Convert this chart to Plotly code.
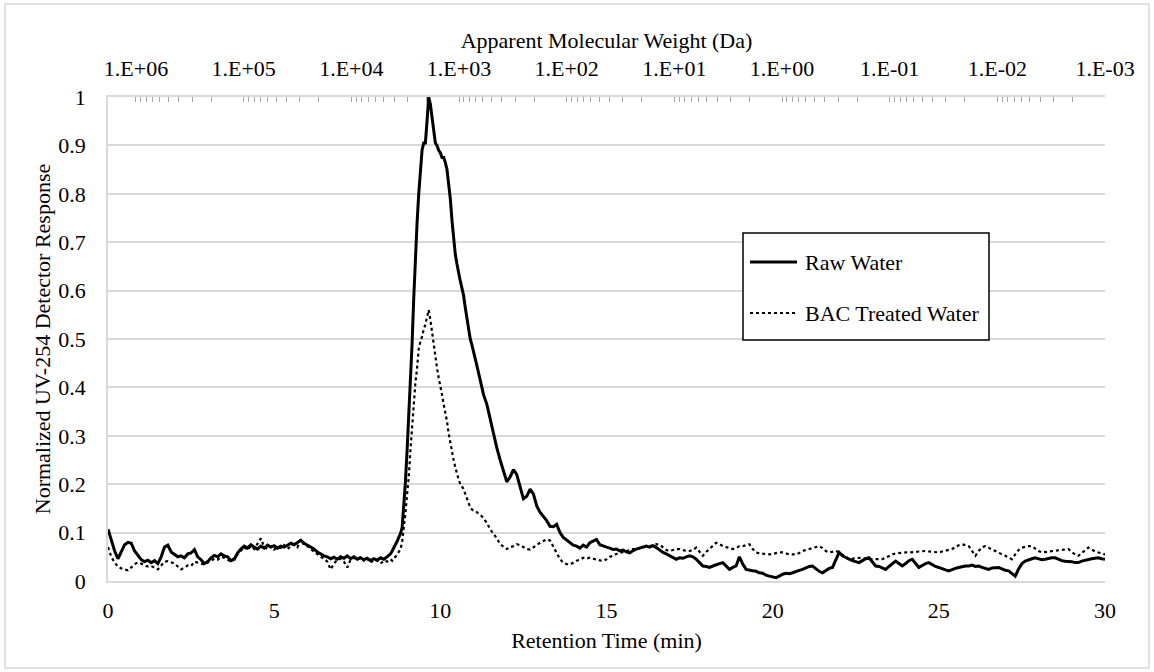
import math
import plotly.graph_objects as go

# ---------------- data ----------------
# retention-time sampling: 0.0-8.4 by 0.1, 8.5-10.95 by 0.05, 11.0-30.0 by 0.1
time_a = [round(i * 0.1, 2) for i in range(85)]
time_b = [round(8.5 + i * 0.05, 2) for i in range(50)]
time_c = [round(11.0 + i * 0.1, 2) for i in range(191)]

raw_a = [
    0.107, 0.085, 0.062, 0.046, 0.060, 0.075, 0.080, 0.078, 0.062, 0.052,
    0.044, 0.040, 0.043, 0.038, 0.042, 0.036, 0.050, 0.070, 0.074, 0.060,
    0.055, 0.050, 0.052, 0.048, 0.056, 0.058, 0.065, 0.050, 0.044, 0.036,
    0.040, 0.048, 0.053, 0.050, 0.056, 0.052, 0.050, 0.042, 0.045, 0.058,
    0.066, 0.072, 0.068, 0.075, 0.070, 0.066, 0.072, 0.068, 0.074, 0.070,
    0.073, 0.068, 0.072, 0.070, 0.074, 0.078, 0.075, 0.080, 0.084, 0.078,
    0.074, 0.070, 0.066, 0.060, 0.056, 0.052, 0.050, 0.046, 0.049, 0.045,
    0.050, 0.047, 0.052, 0.046, 0.050, 0.045, 0.048, 0.044, 0.047, 0.042,
    0.046, 0.043, 0.048, 0.045, 0.050,
]
raw_b = [
    0.056, 0.062, 0.068, 0.075, 0.082, 0.090, 0.098, 0.110, 0.150, 0.205,
    0.270, 0.340, 0.415, 0.490, 0.585, 0.670, 0.740, 0.800, 0.850, 0.890,
    0.905, 0.905, 0.950, 1.000, 0.985, 0.955, 0.930, 0.905, 0.900, 0.890,
    0.885, 0.875, 0.875, 0.865, 0.850, 0.820, 0.790, 0.745, 0.700, 0.675,
    0.655, 0.635, 0.620, 0.605, 0.590, 0.565, 0.540, 0.515, 0.500, 0.488,
]
raw_c = [
    0.475, 0.445, 0.415, 0.385, 0.365, 0.335, 0.300, 0.275, 0.250, 0.225,
    0.205, 0.215, 0.230, 0.220, 0.195, 0.170, 0.175, 0.190, 0.180, 0.155,
    0.142, 0.134, 0.125, 0.113, 0.112, 0.117, 0.100, 0.090, 0.085, 0.079,
    0.074, 0.072, 0.068, 0.074, 0.070, 0.079, 0.082, 0.086, 0.075, 0.072,
    0.070, 0.068, 0.065, 0.066, 0.062, 0.064, 0.060, 0.058, 0.063, 0.066,
    0.068, 0.070, 0.072, 0.070, 0.073, 0.069, 0.064, 0.059, 0.056, 0.052,
    0.049, 0.045, 0.048, 0.047, 0.050, 0.052, 0.050, 0.045, 0.038, 0.031,
    0.030, 0.028, 0.031, 0.034, 0.036, 0.038, 0.030, 0.024, 0.028, 0.031,
    0.050, 0.035, 0.024, 0.022, 0.021, 0.020, 0.017, 0.016, 0.012, 0.010,
    0.008, 0.007, 0.010, 0.014, 0.016, 0.015, 0.017, 0.020, 0.022, 0.024,
    0.027, 0.030, 0.031, 0.026, 0.020, 0.017, 0.022, 0.026, 0.028, 0.045,
    0.059, 0.052, 0.048, 0.045, 0.042, 0.040, 0.038, 0.042, 0.046, 0.048,
    0.040, 0.031, 0.030, 0.027, 0.024, 0.030, 0.036, 0.041, 0.036, 0.031,
    0.036, 0.042, 0.045, 0.036, 0.028, 0.032, 0.036, 0.038, 0.034, 0.030,
    0.028, 0.025, 0.023, 0.021, 0.024, 0.026, 0.028, 0.030, 0.031, 0.031,
    0.033, 0.030, 0.031, 0.028, 0.026, 0.024, 0.027, 0.028, 0.028, 0.025,
    0.022, 0.021, 0.016, 0.010, 0.025, 0.036, 0.041, 0.044, 0.046, 0.048,
    0.046, 0.044, 0.045, 0.047, 0.048, 0.048, 0.045, 0.042, 0.041, 0.041,
    0.040, 0.038, 0.038, 0.041, 0.043, 0.045, 0.046, 0.047, 0.048, 0.046,
    0.045,
]

bac_a = [
    0.070, 0.050, 0.038, 0.030, 0.026, 0.024, 0.022, 0.028, 0.035, 0.038,
    0.036, 0.032, 0.030, 0.031, 0.027, 0.024, 0.032, 0.040, 0.041, 0.038,
    0.036, 0.030, 0.024, 0.028, 0.032, 0.031, 0.040, 0.038, 0.036, 0.034,
    0.038, 0.042, 0.046, 0.044, 0.050, 0.048, 0.044, 0.040, 0.048, 0.056,
    0.062, 0.070, 0.064, 0.072, 0.066, 0.078, 0.088, 0.070, 0.066, 0.072,
    0.065, 0.070, 0.068, 0.074, 0.066, 0.072, 0.076, 0.070, 0.086, 0.074,
    0.072, 0.066, 0.060, 0.055, 0.050, 0.046, 0.040, 0.024, 0.036, 0.044,
    0.046, 0.040, 0.028, 0.044, 0.048, 0.044, 0.050, 0.042, 0.046, 0.038,
    0.044, 0.042, 0.036, 0.042, 0.040,
]
bac_b = [
    0.045, 0.042, 0.048, 0.050, 0.055, 0.060, 0.065, 0.080, 0.105, 0.140,
    0.180, 0.215, 0.270, 0.320, 0.370, 0.410, 0.440, 0.480, 0.495, 0.505,
    0.520, 0.530, 0.545, 0.560, 0.540, 0.515, 0.480, 0.455, 0.440, 0.420,
    0.405, 0.385, 0.365, 0.350, 0.330, 0.305, 0.285, 0.265, 0.250, 0.235,
    0.220, 0.210, 0.200, 0.195, 0.190, 0.180, 0.170, 0.160, 0.152, 0.148,
]
bac_c = [
    0.145, 0.142, 0.137, 0.130, 0.120, 0.107, 0.098, 0.088, 0.076, 0.070,
    0.066, 0.070, 0.072, 0.076, 0.074, 0.070, 0.066, 0.065, 0.069, 0.074,
    0.079, 0.082, 0.086, 0.084, 0.070, 0.058, 0.045, 0.038, 0.035, 0.034,
    0.038, 0.042, 0.044, 0.048, 0.046, 0.048, 0.046, 0.044, 0.042, 0.041,
    0.045, 0.050, 0.052, 0.056, 0.058, 0.060, 0.062, 0.064, 0.066, 0.066,
    0.068, 0.070, 0.072, 0.072, 0.074, 0.076, 0.075, 0.070, 0.064, 0.062,
    0.064, 0.066, 0.066, 0.064, 0.062, 0.062, 0.064, 0.069, 0.060, 0.052,
    0.060, 0.066, 0.074, 0.079, 0.076, 0.072, 0.070, 0.068, 0.066, 0.068,
    0.072, 0.072, 0.074, 0.076, 0.066, 0.059, 0.057, 0.056, 0.055, 0.055,
    0.056, 0.058, 0.059, 0.059, 0.057, 0.055, 0.055, 0.055, 0.058, 0.062,
    0.064, 0.066, 0.068, 0.070, 0.072, 0.068, 0.062, 0.059, 0.060, 0.062,
    0.059, 0.055, 0.050, 0.045, 0.046, 0.047, 0.048, 0.047, 0.046, 0.046,
    0.045, 0.045, 0.045, 0.045, 0.048, 0.052, 0.055, 0.057, 0.058, 0.059,
    0.059, 0.059, 0.059, 0.060, 0.061, 0.062, 0.062, 0.061, 0.060, 0.060,
    0.059, 0.061, 0.063, 0.065, 0.066, 0.070, 0.074, 0.076, 0.074, 0.072,
    0.062, 0.052, 0.062, 0.070, 0.072, 0.068, 0.065, 0.062, 0.058, 0.055,
    0.052, 0.048, 0.045, 0.055, 0.064, 0.069, 0.071, 0.072, 0.072, 0.066,
    0.062, 0.059, 0.060, 0.061, 0.062, 0.062, 0.064, 0.065, 0.066, 0.066,
    0.060, 0.055, 0.052, 0.058, 0.064, 0.069, 0.065, 0.061, 0.059, 0.057,
    0.055,
]

time_min = time_a + time_b + time_c
raw_water = raw_a + raw_b + raw_c
bac_water = bac_a + bac_b + bac_c
assert len(time_min) == len(raw_water) == len(bac_water)

series_names = ["Raw Water", "BAC Treated Water"]

x_ticks = [0, 5, 10, 15, 20, 25, 30]
y_ticks = [round(i * 0.1, 1) for i in range(11)]
y_ticktext = ["0", "0.1", "0.2", "0.3", "0.4", "0.5", "0.6", "0.7", "0.8", "0.9", "1"]

mw_exponents = [6, 5, 4, 3, 2, 1, 0, -1, -2, -3]
mw_labels = ["1.E+06", "1.E+05", "1.E+04", "1.E+03", "1.E+02",
             "1.E+01", "1.E+00", "1.E-01", "1.E-02", "1.E-03"]
mw_log_range = [6.26, -3]  # log10(MW) at t=0 and at t=30

# ---------------- figure ----------------
FONT = "Liberation Serif"
GRID = "#d9d9d9"
TXT = dict(family=FONT, size=22, color="black")

# top-axis ticks: every n*10^k inside the range, labels only at powers of ten
top_vals, top_text = [], []
for e, lab in zip(mw_exponents, mw_labels):
    for n in range(1, 10):
        v = n * 10.0 ** e
        lv = math.log10(v)
        if mw_log_range[1] - 1e-9 <= lv <= mw_log_range[0]:
            top_vals.append(v)
            top_text.append(lab if n == 1 else "")

fig = go.Figure()
fig.add_trace(go.Scatter(
    x=time_min, y=raw_water, mode="lines", name=series_names[0],
    line=dict(color="black", width=3), showlegend=False,
))
fig.add_trace(go.Scatter(
    x=time_min, y=bac_water, mode="lines", name=series_names[1],
    line=dict(color="black", width=2.2, dash="dot"), showlegend=False,
))
# invisible helper trace so the top (molecular weight) axis is drawn
fig.add_trace(go.Scatter(
    x=[10.0 ** mw_log_range[0], 10.0 ** mw_log_range[1]], y=[None, None],
    xaxis="x2", mode="lines", showlegend=False, hoverinfo="skip",
))

W, H = 1154, 672
L, R, T, B = 108, 49, 97, 91
pw, ph = W - L - R, H - T - B


def px_x(p):
    return (p - L) / pw


def px_y(p):
    return (H - B - p) / ph


# legend drawn as a framed box with line samples and text
legend_box = dict(x0=743, x1=989, y0=233, y1=340)
legend_rows = [262, 313]
legend_styles = [dict(color="black", width=3), dict(color="black", width=2.2, dash="dot")]

shapes = [dict(
    type="rect", xref="paper", yref="paper",
    x0=px_x(5), x1=px_x(1149), y0=px_y(668), y1=px_y(4),
    line=dict(color=GRID, width=1.5), fillcolor="rgba(0,0,0,0)", layer="below",
), dict(
    type="rect", xref="paper", yref="paper",
    x0=px_x(legend_box["x0"]), x1=px_x(legend_box["x1"]),
    y0=px_y(legend_box["y1"]), y1=px_y(legend_box["y0"]),
    line=dict(color="black", width=1.5), fillcolor="white", layer="above",
)]
annotations = []
for name, row, style in zip(series_names, legend_rows, legend_styles):
    shapes.append(dict(
        type="line", xref="paper", yref="paper",
        x0=px_x(750), x1=px_x(797), y0=px_y(row), y1=px_y(row),
        line=style, layer="above",
    ))
    annotations.append(dict(
        text=name, xref="paper", yref="paper", x=px_x(803), y=px_y(row),
        xanchor="left", yanchor="middle", showarrow=False, font=TXT,
    ))

fig.update_layout(
    width=W, height=H,
    margin=dict(l=L, r=R, t=T, b=B, autoexpand=False),
    paper_bgcolor="white", plot_bgcolor="white",
    font=TXT,
    showlegend=False,
    xaxis=dict(
        range=[0, 30], tickmode="array", tickvals=x_ticks,
        showgrid=False, zeroline=False, showline=True, linecolor=GRID, linewidth=1.5,
        ticks="", ticklabelstandoff=9, tickfont=TXT,
        title=dict(text="Retention Time (min)", standoff=10, font=TXT),
        fixedrange=True,
    ),
    xaxis2=dict(
        type="log", range=mw_log_range, overlaying="x", side="top",
        tickmode="array", tickvals=top_vals, ticktext=top_text,
        ticks="inside", ticklen=5, tickwidth=1, tickcolor="#a6a6a6",
        showgrid=False, zeroline=False, showline=True, linecolor=GRID, linewidth=1.5,
        ticklabelstandoff=10, tickfont=TXT,
        title=dict(text="Apparent Molecular Weight (Da)", standoff=2, font=TXT),
    ),
    yaxis=dict(
        range=[0, 1], tickmode="array", tickvals=y_ticks, ticktext=y_ticktext,
        showgrid=True, gridcolor=GRID, gridwidth=1.5,
        zeroline=False, showline=True, linecolor=GRID, linewidth=1.5,
        ticks="", ticklabelstandoff=16, tickfont=TXT,
        title=dict(text="Normalized UV-254 Detector Response", standoff=2, font=TXT),
    ),
    shapes=shapes,
    annotations=annotations,
)

fig.write_html("out.html")
